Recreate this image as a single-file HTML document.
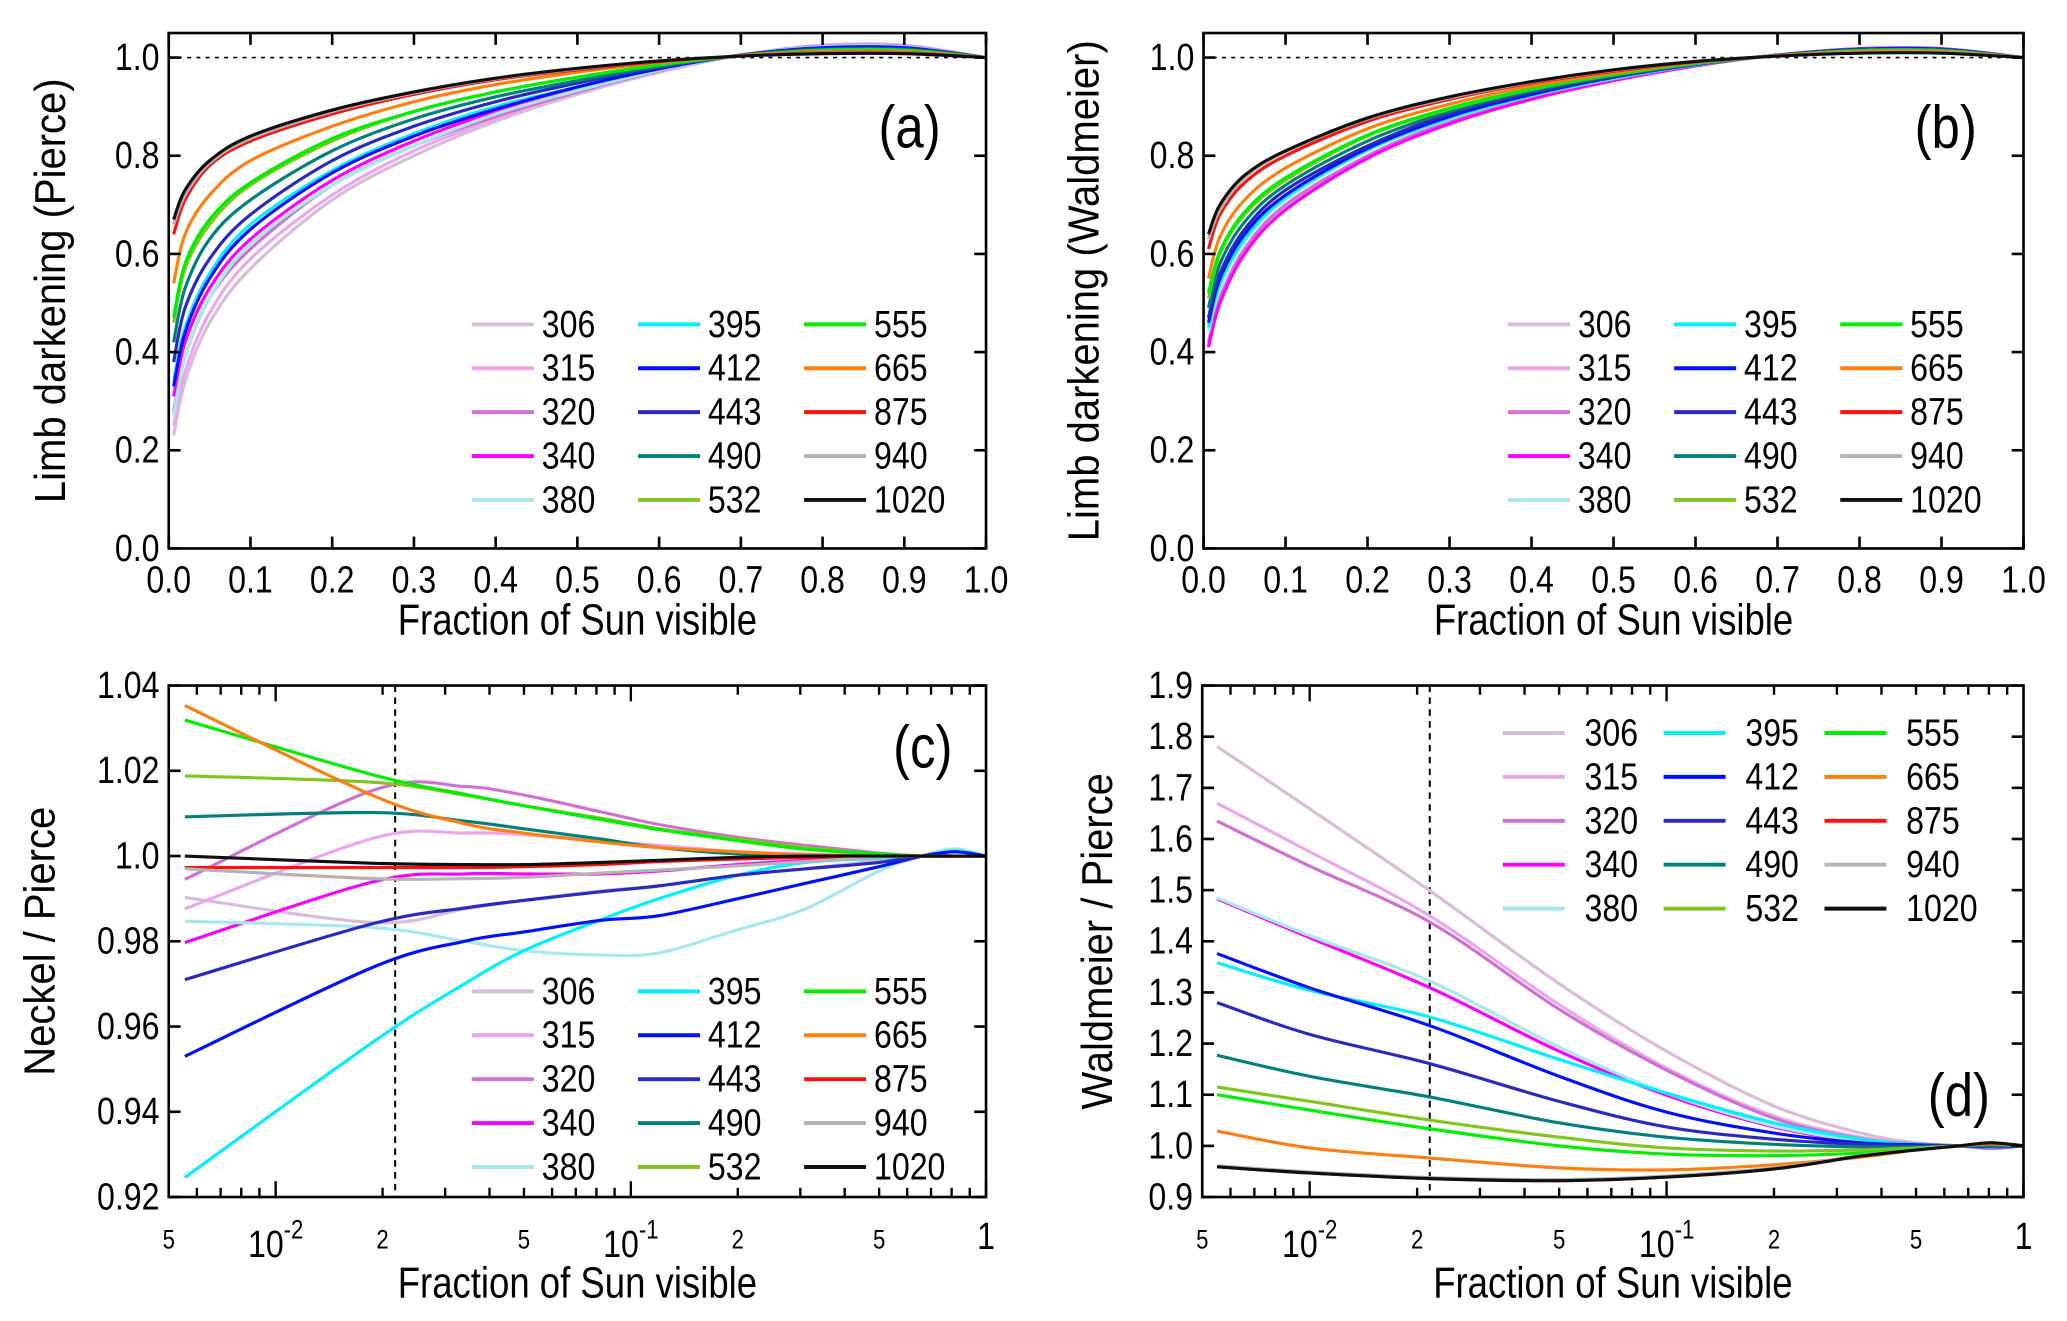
<!DOCTYPE html>
<html><head><meta charset="utf-8">
<style>
html,body{margin:0;padding:0;background:#fff;}
svg{display:block;}
text{font-family:"Liberation Sans Narrow","Liberation Sans",sans-serif;fill:#000;}
</style></head>
<body>
<svg id="fig" width="2067" height="1321" viewBox="0 0 1568 1002" xmlns="http://www.w3.org/2000/svg"></svg>
<script>
// ---- data ----
const bands = ["306","315","320","340","380","395","412","443","490","532","555","665","875","940","1020"];
const colors = ["#d8bcd8","#eaa8ea","#d070d0","#ff00ff","#a8e8ec","#00f0ff","#0010ff","#2a2ac0","#00807c","#80c420","#00ee00","#ff8010","#ff1010","#b4b4b4","#101010"];
const fracLin = [0.006,0.02,0.05,0.1,0.2,0.3,0.4,0.5,0.6,0.7,0.8,0.9,1.0];
const aVals = [
[0.23,0.34,0.46,0.57,0.71,0.80,0.87,0.925,0.97,1.005,1.025,1.025,1.0],
[0.25,0.36,0.48,0.59,0.72,0.81,0.875,0.93,0.972,1.005,1.025,1.025,1.0],
[0.28,0.39,0.51,0.61,0.74,0.82,0.88,0.93,0.973,1.005,1.023,1.023,1.0],
[0.31,0.42,0.53,0.63,0.75,0.83,0.89,0.935,0.975,1.005,1.022,1.022,1.0],
[0.27,0.39,0.51,0.62,0.74,0.82,0.885,0.933,0.974,1.005,1.022,1.022,1.0],
[0.34,0.45,0.56,0.66,0.77,0.845,0.90,0.94,0.978,1.005,1.02,1.02,1.0],
[0.33,0.44,0.55,0.65,0.765,0.84,0.895,0.94,0.977,1.005,1.02,1.02,1.0],
[0.38,0.49,0.59,0.68,0.79,0.86,0.91,0.948,0.98,1.005,1.018,1.018,1.0],
[0.42,0.53,0.63,0.71,0.81,0.875,0.92,0.953,0.982,1.004,1.016,1.016,1.0],
[0.46,0.57,0.66,0.74,0.83,0.89,0.93,0.96,0.985,1.004,1.015,1.015,1.0],
[0.47,0.58,0.67,0.745,0.835,0.89,0.93,0.96,0.985,1.004,1.015,1.015,1.0],
[0.54,0.64,0.72,0.79,0.86,0.91,0.945,0.97,0.99,1.004,1.012,1.012,1.0],
[0.64,0.71,0.78,0.83,0.885,0.925,0.955,0.975,0.992,1.003,1.01,1.01,1.0],
[0.66,0.72,0.785,0.835,0.89,0.928,0.957,0.977,0.993,1.003,1.009,1.009,1.0],
[0.67,0.73,0.79,0.84,0.893,0.93,0.958,0.978,0.993,1.003,1.008,1.008,1.0]];
const bVals = [
[0.41,0.50,0.60,0.69,0.795,0.865,0.915,0.953,0.983,1.005,1.018,1.018,1.0],
[0.415,0.505,0.605,0.695,0.80,0.868,0.917,0.955,0.984,1.005,1.018,1.018,1.0],
[0.42,0.51,0.61,0.70,0.80,0.87,0.918,0.955,0.984,1.005,1.018,1.018,1.0],
[0.41,0.50,0.60,0.69,0.795,0.865,0.915,0.953,0.983,1.005,1.018,1.018,1.0],
[0.44,0.53,0.625,0.71,0.81,0.875,0.922,0.957,0.985,1.005,1.017,1.017,1.0],
[0.45,0.54,0.63,0.715,0.812,0.877,0.923,0.958,0.985,1.005,1.017,1.017,1.0],
[0.46,0.55,0.64,0.72,0.815,0.88,0.925,0.96,0.986,1.005,1.017,1.017,1.0],
[0.47,0.56,0.65,0.73,0.82,0.885,0.928,0.961,0.986,1.005,1.016,1.016,1.0],
[0.49,0.58,0.665,0.74,0.83,0.89,0.932,0.963,0.987,1.004,1.015,1.015,1.0],
[0.51,0.60,0.68,0.75,0.84,0.895,0.935,0.965,0.988,1.004,1.014,1.014,1.0],
[0.52,0.605,0.685,0.755,0.842,0.897,0.936,0.966,0.988,1.004,1.014,1.014,1.0],
[0.55,0.635,0.71,0.775,0.855,0.905,0.942,0.969,0.99,1.004,1.012,1.012,1.0],
[0.61,0.68,0.745,0.80,0.87,0.915,0.948,0.972,0.991,1.003,1.01,1.01,1.0],
[0.63,0.69,0.755,0.808,0.875,0.918,0.95,0.974,0.992,1.003,1.01,1.01,1.0],
[0.64,0.70,0.76,0.81,0.877,0.92,0.951,0.975,0.992,1.003,1.009,1.009,1.0]];
const fracC = [0.00555,0.0189,0.034,0.05,0.082,0.12,0.2,0.31,0.5,0.66,0.82,1.0];
const cVals = [
[0.9903,0.9844,0.9876,0.9896,0.9918,0.993,0.9955,0.997,0.999,1.0,1.0,1.0],
[0.9876,1.0042,1.0054,1.005,1.0036,1.0025,1.001,1.0005,1.0,1.0,1.0,1.0],
[0.9945,1.0155,1.0163,1.0143,1.0104,1.0074,1.0044,1.0025,1.0007,1.0,1.0,1.0],
[0.9797,0.994,0.9958,0.9958,0.9958,0.9965,0.998,0.999,0.9998,1.0,1.0,1.0],
[0.9847,0.9832,0.980,0.9778,0.9768,0.9773,0.9827,0.9876,0.9965,1.0,1.0017,1.0],
[0.9246,0.9565,0.970,0.9778,0.985,0.990,0.9955,0.9985,0.9995,1.0,1.0012,1.0],
[0.953,0.974,0.98,0.9822,0.9849,0.986,0.990,0.9936,0.9975,1.0,1.001,1.0],
[0.971,0.9842,0.9878,0.9896,0.9916,0.993,0.9955,0.997,0.9985,1.0,1.0,1.0],
[1.0092,1.0102,1.0082,1.0064,1.004,1.002,1.0005,1.0002,1.0,1.0,1.0,1.0],
[1.0188,1.0173,1.0143,1.0118,1.0089,1.0064,1.004,1.002,1.0005,1.0,1.0,1.0],
[1.0319,1.019,1.0145,1.0118,1.0086,1.0062,1.0036,1.0016,1.0005,1.0,1.0,1.0],
[1.0353,1.0141,1.0076,1.0054,1.0033,1.002,1.001,1.0003,1.0,1.0,1.0,1.0],
[0.9973,0.9973,0.9973,0.9975,0.998,0.9987,0.9993,0.9997,1.0,1.0,1.0,1.0],
[0.997,0.9947,0.9947,0.995,0.996,0.9967,0.9977,0.9987,0.9997,1.0,1.0,1.0],
[1.0,0.9983,0.998,0.998,0.9985,0.999,0.9997,1.0,1.0,1.0,1.0,1.0]];
const fracD = [0.0055,0.01,0.0219,0.05,0.1,0.2,0.35,0.5,0.66,0.81,1.0];
const dVals = [
[1.781,1.659,1.497,1.317,1.185,1.078,1.025,1.006,1.0,0.996,1.0],
[1.67,1.575,1.448,1.276,1.152,1.058,1.017,1.004,1.0,0.995,1.0],
[1.635,1.547,1.436,1.267,1.148,1.054,1.014,1.004,1.0,0.995,1.0],
[1.483,1.407,1.308,1.185,1.099,1.037,1.008,1.002,1.0,0.997,1.0],
[1.485,1.411,1.321,1.193,1.103,1.039,1.010,1.003,1.0,0.997,1.0],
[1.358,1.304,1.251,1.169,1.103,1.045,1.013,1.003,1.0,0.998,1.0],
[1.376,1.309,1.234,1.136,1.066,1.025,1.006,1.002,1.0,0.998,1.0],
[1.28,1.218,1.16,1.087,1.037,1.013,1.003,1.0,1.0,0.998,1.0],
[1.177,1.136,1.095,1.045,1.017,1.003,0.998,0.998,1.0,1.0,1.0],
[1.115,1.087,1.05,1.017,0.996,0.99,0.992,0.996,1.0,1.004,1.0],
[1.1,1.07,1.033,1.0,0.984,0.981,0.986,0.994,1.0,1.004,1.0],
[1.029,0.996,0.976,0.957,0.953,0.963,0.978,0.992,1.0,1.004,1.0],
[0.959,0.947,0.936,0.932,0.939,0.955,0.980,0.992,1.0,1.006,1.0],
[0.961,0.949,0.938,0.934,0.941,0.957,0.981,0.993,1.0,1.006,1.0],
[0.959,0.947,0.936,0.932,0.939,0.955,0.980,0.992,1.0,1.006,1.0]];
const linTicks = ["0.0","0.1","0.2","0.3","0.4","0.5","0.6","0.7","0.8","0.9","1.0"];
const abYTicks = ["0.0","0.2","0.4","0.6","0.8","1.0"];
const cYTicks = ["0.92","0.94","0.96","0.98","1.0","1.02","1.04"];
const dYTicks = ["0.9","1.0","1.1","1.2","1.3","1.4","1.5","1.6","1.7","1.8","1.9"];

// ---- drawing ----
const NS="http://www.w3.org/2000/svg";
const svg=document.getElementById('fig');
const SQ=0.84;
function el(tag,attrs,parent){const e=document.createElementNS(NS,tag);for(const k in attrs)e.setAttribute(k,attrs[k]);(parent||svg).appendChild(e);return e;}
function txt(s,x,y,size,anchor,parent){const t=el('text',{x:0,y:0,'font-size':size,'text-anchor':anchor||'middle','dominant-baseline':'central',transform:'translate('+x+','+y+') scale('+SQ+',1)'},parent);t.textContent=s;return t;}
function smooth(pts){let d='M'+pts[0][0].toFixed(2)+','+pts[0][1].toFixed(2);
 for(let i=0;i<pts.length-1;i++){const p0=pts[Math.max(0,i-1)],p1=pts[i],p2=pts[i+1],p3=pts[Math.min(pts.length-1,i+2)];
 const c1=[p1[0]+(p2[0]-p0[0])/6,p1[1]+(p2[1]-p0[1])/6],c2=[p2[0]-(p3[0]-p1[0])/6,p2[1]-(p3[1]-p1[1])/6];
 d+=' C'+c1[0].toFixed(2)+','+c1[1].toFixed(2)+' '+c2[0].toFixed(2)+','+c2[1].toFixed(2)+' '+p2[0].toFixed(2)+','+p2[1].toFixed(2);}return d;}

function panel(cfg){
 const g=el('g',{});
 
 
 const {x0,x1,y0,y1}=cfg;
 const sx=cfg.log? v=>x0+(Math.log10(v)-Math.log10(0.005))/Math.log10(200)*(x1-x0) : v=>x0+v*(x1-x0);
 const sy=v=>y1+(v-cfg.ymin)/(cfg.ymax-cfg.ymin)*(y0-y1);
 if(cfg.hline){const l=el('line',{x1:x0,x2:x1,y1:sy(1),y2:sy(1),stroke:'#000','stroke-width':1.3,'stroke-dasharray':'3,4'},g);
   }
 if(cfg.vline){const l=el('line',{x1:sx(cfg.vline),x2:sx(cfg.vline),y1:y0,y2:y1,stroke:'#000','stroke-width':1.5,'stroke-dasharray':'5,4'},g);
   }
 for(let i=0;i<bands.length;i++){
  const pts=cfg.xs.map((f,j)=>[sx(f),sy(cfg.vals[i][j])]);
  const p=el('path',{d:smooth(pts),fill:'none',stroke:colors[i],'stroke-width':2.4,'stroke-linejoin':'round'},g);
  
  
 }
 const fr=el('rect',{x:x0,y:y0,width:x1-x0,height:y1-y0,fill:'none',stroke:'#000','stroke-width':2},g);
  
 cfg.yticks.forEach(s=>{const v=parseFloat(s),y=sy(v);
  el('line',{x1:x0,x2:x0+9,y1:y,y2:y,stroke:'#000','stroke-width':2},g);
  el('line',{x1:x1,x2:x1-9,y1:y,y2:y,stroke:'#000','stroke-width':2},g);
  const t=txt(s,x0-7,y,29,'end',g);
   });
 if(!cfg.log){
  linTicks.forEach(s=>{const x=sx(parseFloat(s));
   el('line',{x1:x,x2:x,y1:y1,y2:y1-9,stroke:'#000','stroke-width':2},g);
   el('line',{x1:x,x2:x,y1:y0,y2:y0+9,stroke:'#000','stroke-width':2},g);
   const t=txt(s,x,y1+24,29,'middle',g);
    });
 } else {
  [0.001,0.01,0.1].forEach(dec=>{for(let k=1;k<10;k++){const v=dec*k;if(v<0.005-1e-9||v>1)continue;const x=sx(v);const big=(k===1);
   el('line',{x1:x,x2:x,y1:y1,y2:y1-(big?12:7),stroke:'#000','stroke-width':1.8},g);
   el('line',{x1:x,x2:x,y1:y0,y2:y0+(big?12:7),stroke:'#000','stroke-width':1.8},g);}});
  el('line',{x1:sx(1),x2:sx(1),y1:y1,y2:y1-12,stroke:'#000','stroke-width':1.8},g);
  [["5",0.005],["2",0.02],["5",0.05],["2",0.2],["5",0.5]].forEach(a=>{const t=txt(a[0],sx(a[1]),y1+33,20,'middle',g);
    });
  [["-2",0.01],["-1",0.1]].forEach(a=>{const t=el('text',{x:0,y:0,'font-size':29,'text-anchor':'middle','dominant-baseline':'central',transform:'translate('+sx(a[1])+','+(y1+36)+') scale('+SQ+',1)'},g);
   t.textContent='10';const ts=el('tspan',{'font-size':20,dy:-11},t);ts.textContent=a[0];
    });
  const t=txt("1",sx(1),y1+30,29,'middle',g);  
 }
 const xt=txt("Fraction of Sun visible",(x0+x1)/2,cfg.xtitleY,33,'middle',g);
  
 const yt=el('text',{x:0,y:0,'font-size':33,'text-anchor':'middle','dominant-baseline':'central',transform:'translate('+cfg.ytitleX+','+((y0+y1)/2)+') rotate(-90) scale(0.92,1)',style:'font-family:"Liberation Sans",sans-serif'},g);
 yt.textContent=cfg.ytitle;  
 const pl=txt(cfg.label,cfg.lx,cfg.ly,46,'middle',g);
  
 const lg=el('g',{},g);  
 for(let i=0;i<bands.length;i++){const col=Math.floor(i/5),row=i%5;
  const bx=cfg.legX+col*cfg.legDX, by=cfg.legY+row*33.3;
  const ln=el('line',{x1:bx,x2:bx+47,y1:by,y2:by,stroke:colors[i],'stroke-width':3},lg);
   
  const t=txt(bands[i],bx+cfg.legTX,by,29,'start',lg);
   }
}
panel({name:'panel-a-pierce',x0:128,x1:748,y0:25,y1:416,ymin:0,ymax:1.05,log:false,xs:fracLin,vals:aVals,yticks:abYTicks,hline:true,
 xtitleY:470,ytitle:'Limb darkening (Pierce)',ytitleX:38,label:'(a)',lx:690,ly:96,legX:358,legY:246,legDX:126,legTX:53});
panel({name:'panel-b-waldmeier',x0:913,x1:1535,y0:25,y1:416,ymin:0,ymax:1.05,log:false,xs:fracLin,vals:bVals,yticks:abYTicks,hline:true,
 xtitleY:470,ytitle:'Limb darkening (Waldmeier)',ytitleX:822,label:'(b)',lx:1476,ly:96,legX:1144,legY:246,legDX:126,legTX:53});
panel({name:'panel-c-neckel-ratio',x0:128,x1:748,y0:520,y1:908,ymin:0.92,ymax:1.04,log:true,xs:fracC,vals:cVals,yticks:cYTicks,vline:0.0217,
 xtitleY:973,ytitle:'Neckel / Pierce',ytitleX:30,label:'(c)',lx:700,ly:566,legX:358,legY:752,legDX:126,legTX:53});
panel({name:'panel-d-waldmeier-ratio',x0:912,x1:1535,y0:520,y1:908,ymin:0.9,ymax:1.9,log:true,xs:fracD,vals:dVals,yticks:dYTicks,vline:0.0217,
 xtitleY:973,ytitle:'Waldmeier / Pierce',ytitleX:832,label:'(d)',lx:1486,ly:830,legX:1140,legY:556,legDX:122,legTX:62});
</script>
</body></html>
